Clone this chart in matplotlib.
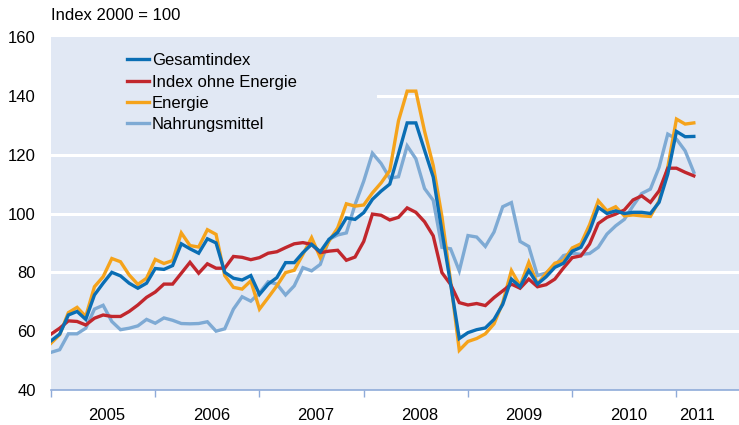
"""Verbraucherpreise: Gesamtindex, Index ohne Energie, Energie, Nahrungsmittel (2000 = 100)."""

import numpy as np
import matplotlib
matplotlib.use("Agg")
import matplotlib.pyplot as plt
from matplotlib.ticker import FixedLocator, NullFormatter, FixedFormatter

# monthly values, Jan 2005 .. Mar 2011
gesamt = [56.7, 59.0, 65.5, 66.7, 64.0, 72.3, 76.3, 80.0, 78.8, 76.3, 74.6, 76.3,
          81.3, 81.0, 82.3, 89.7, 88.0, 86.5, 91.4, 90.0, 80.0, 78.0, 77.4, 78.9,
          72.5, 76.0, 78.2, 83.3, 83.3, 86.7, 89.5, 87.0, 91.2, 93.6, 98.5, 98.0,
          100.3, 104.8, 107.6, 110.0, 120.3, 130.8, 130.8, 121.5, 112.4, 94.0, 76.0, 57.5,
          59.5, 60.5, 61.1, 64.0, 69.1, 77.7, 75.1, 80.6, 76.0, 78.5, 81.7, 83.1,
          87.2, 88.5, 94.1, 102.1, 100.0, 100.9, 100.0, 100.4, 100.4, 100.0, 103.8, 113.4,
          127.9, 126.1, 126.2]
ohne_energie = [59.0, 61.0, 63.5, 63.3, 62.1, 64.4, 65.5, 65.0, 65.0, 66.7, 68.9, 71.5,
                73.3, 76.0, 76.0, 79.7, 83.4, 79.7, 82.9, 81.4, 81.4, 85.4, 85.1, 84.3,
                85.0, 86.5, 87.0, 88.4, 89.7, 90.1, 89.5, 86.7, 87.2, 87.5, 84.1, 85.2,
                90.5, 99.8, 99.4, 97.8, 98.7, 101.9, 100.4, 97.2, 92.4, 79.9, 75.9, 69.7,
                68.9, 69.4, 68.7, 71.4, 73.7, 76.0, 74.6, 77.7, 75.1, 75.8, 77.7, 81.5,
                85.0, 85.6, 89.6, 96.6, 98.7, 99.8, 101.2, 104.6, 106.0, 103.8, 107.7, 115.4,
                115.4, 114.0, 112.8]
energie = [55.9, 58.8, 66.3, 68.1, 65.0, 75.1, 78.5, 84.7, 83.6, 79.1, 75.9, 78.0,
           84.4, 83.0, 84.0, 93.4, 89.1, 88.6, 94.5, 92.9, 78.9, 74.9, 74.3, 77.1,
           67.5, 71.4, 75.4, 79.9, 80.7, 86.1, 91.8, 85.0, 90.6, 95.1, 103.3, 102.5,
           102.9, 107.0, 110.4, 114.6, 131.5, 141.6, 141.6, 128.0, 116.3, 99.0, 77.0, 53.5,
           56.5, 57.5, 59.1, 62.5, 69.7, 80.6, 75.4, 83.4, 76.0, 79.7, 83.1, 84.0,
           88.3, 89.7, 96.2, 104.3, 100.9, 102.3, 99.2, 99.5, 99.2, 99.0, 104.3, 115.7,
           132.1, 130.4, 130.8]
nahrung = [52.8, 53.7, 59.1, 59.1, 61.0, 67.5, 68.8, 63.3, 60.5, 61.0, 61.8, 64.0,
           62.7, 64.5, 63.7, 62.6, 62.5, 62.6, 63.2, 60.0, 60.8, 67.5, 71.7, 70.2,
           73.0, 76.8, 76.0, 72.3, 75.4, 81.6, 80.5, 82.7, 91.2, 92.7, 93.4, 103.0,
           111.0, 120.5, 117.0, 112.0, 112.5, 123.0, 118.6, 108.5, 104.5, 88.5, 88.0, 80.5,
           92.5, 92.0, 88.8, 93.7, 102.3, 103.7, 90.5, 88.8, 78.9, 79.8, 82.3, 85.7,
           86.5, 86.1, 86.4, 88.5, 93.0, 95.8, 98.0, 102.6, 106.8, 108.3, 115.7, 127.0,
           125.3, 121.3, 114.0]

series_names = ["Gesamtindex", "Index ohne Energie", "Energie", "Nahrungsmittel"]
series_colors = ["#0a6eb4", "#c1272d", "#f5a31b", "#7eaad4"]
years = ["2005", "2006", "2007", "2008", "2009", "2010", "2011"]
year_label_pos = [6.45, 18.45, 30.45, 42.45, 54.45, 66.45, 74.4]
y_ticks = [40, 60, 80, 100, 120, 140, 160]

BG = "#e1e8f4"
AXIS_BLUE = "#8fabd9"

plt.rcParams["font.family"] = ["Liberation Sans", "DejaVu Sans"]
plt.rcParams["font.size"] = 12

fig = plt.figure(figsize=(7.39, 4.25), dpi=100)
ax = fig.add_axes([51 / 739, 1 - 390 / 425, 688 / 739, 353 / 425])
ax.set_facecolor(BG)

months = np.arange(len(gesamt))
# gridlines (the 140 line is hidden behind the legend on the left)
for v in y_ticks[1:-1]:
    xmin = 0.475 if v == 140 else 0.0
    ax.axhline(v, xmin=xmin, color="white", lw=2.2, zorder=1)

# draw order: food first, then energy, core, total on top
order = [3, 2, 1, 0]
data = [gesamt, ohne_energie, energie, nahrung]
lines = {}
for k in order:
    (ln,) = ax.plot(months, data[k], color=series_colors[k], lw=2.4,
                    solid_joinstyle="miter", zorder=3 + (3 - k))
    lines[k] = ln

ax.set_xlim(0, 79.2)
ax.set_ylim(40, 160)

for s in ["top", "right", "left"]:
    ax.spines[s].set_visible(False)
ax.spines["bottom"].set_color(AXIS_BLUE)
ax.spines["bottom"].set_linewidth(1.2)

ax.set_yticks(y_ticks)
ax.tick_params(axis="y", length=0, pad=11, labelsize=12)

ax.xaxis.set_major_locator(FixedLocator(np.arange(0, 73, 12)))
ax.xaxis.set_major_formatter(NullFormatter())
ax.xaxis.set_minor_locator(FixedLocator(year_label_pos))
ax.xaxis.set_minor_formatter(FixedFormatter(years))
ax.tick_params(axis="x", which="major", length=5, width=1, color=AXIS_BLUE, direction="out")
ax.tick_params(axis="x", which="minor", length=0, pad=13, labelsize=12)

ax.legend([lines[k] for k in range(4)], series_names, loc="upper left",
          bbox_to_anchor=(0.11, 0.954), frameon=False, borderpad=0,
          borderaxespad=0, handlelength=1.35, handletextpad=0.15,
          labelspacing=0.38, fontsize=12)

fig.text(51 / 739, 1 - 15 / 425, "Index 2000 = 100", ha="left", va="center", fontsize=12)

fig.savefig("out.png", dpi=100, facecolor="white")
